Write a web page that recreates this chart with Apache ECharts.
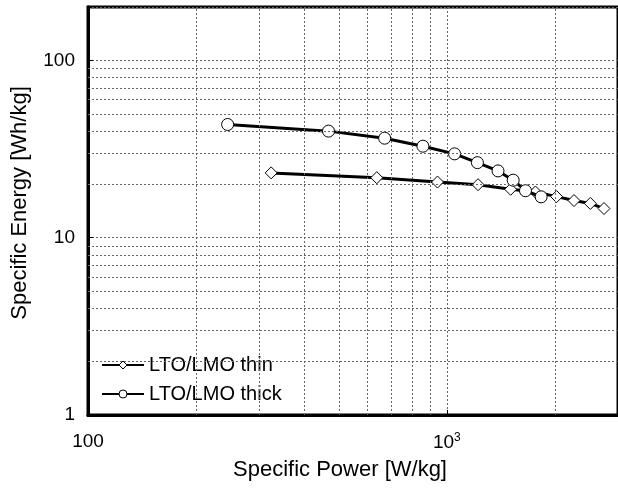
<!DOCTYPE html>
<html>
<head>
<meta charset="utf-8">
<script src="https://cdn.jsdelivr.net/npm/echarts@6/dist/echarts.min.js"></script>
<style>
html,body{margin:0;padding:0;background:#fff;}
#chart{width:618px;height:490px;}
</style>
</head>
<body>
<div id="chart"></div>
<script>
// Data (Specific Power [W/kg], Specific Energy [Wh/kg])
const thinPower  = [324, 638, 942, 1222, 1506, 1766, 2023, 2262, 2512, 2742];
const thinEnergy = [23.2, 21.8, 20.6, 19.9, 18.75, 18.1, 17.05, 16.2, 15.6, 14.6];
const thickPower  = [245, 468, 671, 858, 1051, 1217, 1389, 1531, 1657, 1832];
const thickEnergy = [43.5, 39.9, 36.4, 32.8, 29.7, 26.5, 23.8, 21.1, 18.4, 17.0];
const seriesNames = ['LTO/LMO thin', 'LTO/LMO thick'];
// Minor (log) grid positions
const xMinorGrid = [200, 300, 400, 500, 600, 700, 800, 900, 2000];
const yMinorGrid = [2, 3, 4, 5, 6, 7, 8, 9, 20, 30, 40, 50, 60, 70, 80, 90];
const xRange = [100, 3000];
const yRange = [1, 200];

const FONT = '"Liberation Sans", Arial, Helvetica, sans-serif';
const gridLine = { color: '#666', width: 1, type: [2, 2] };
const hollow = { color: '#fff', borderColor: '#000', borderWidth: 1 };

function isDecade(v) {
  const l = Math.log10(v);
  return Math.abs(l - Math.round(l)) < 1e-6;
}

const chart = echarts.init(document.getElementById('chart'), null, { renderer: 'canvas' });
chart.setOption({
  animation: false,
  backgroundColor: '#fff',
  textStyle: { fontFamily: FONT },
  grid: {
    left: 88, top: 7, width: 532, height: 408,
    show: true, borderColor: '#000', borderWidth: 3, backgroundColor: 'transparent'
  },
  legend: {
    orient: 'vertical', left: 96, top: 350,
    itemWidth: 42, itemHeight: 10, itemGap: 9,
    data: seriesNames,
    itemStyle: { color: '#fff', borderColor: '#000', borderWidth: 1 },
    lineStyle: { color: '#000', width: 2 },
    textStyle: { fontFamily: FONT, fontSize: 20, color: '#000' }
  },
  xAxis: {
    type: 'log', logBase: 10, min: xRange[0], max: xRange[1],
    axisLine: { show: true, lineStyle: { color: '#000', width: 3 } },
    axisTick: { show: true, inside: true, length: 5, lineStyle: { color: '#000', width: 1 } },
    splitLine: { show: true, lineStyle: gridLine },
    axisLabel: {
      margin: 17, color: '#000', fontSize: 19, fontFamily: FONT,
      showMaxLabel: false,
      formatter: function (v) {
        if (!isDecade(v)) return '';
        const e = Math.round(Math.log10(v));
        if (e <= 2) return String(Math.round(v));
        return '{b|10}{s|' + e + '}';
      },
      rich: {
        b: { fontSize: 19, fontFamily: FONT, color: '#000' },
        s: { fontSize: 12, fontFamily: FONT, color: '#000', verticalAlign: 'top', padding: [0, 0, 10, 0] }
      }
    },
    name: 'Specific Power [W/kg]', nameLocation: 'middle', nameGap: 44,
    nameTextStyle: { fontSize: 22, fontFamily: FONT, color: '#000', padding: [0, 26, 0, 0] }
  },
  yAxis: {
    type: 'log', logBase: 10, min: yRange[0], max: yRange[1],
    axisLine: { show: true, lineStyle: { color: '#000', width: 3 } },
    axisTick: { show: true, inside: true, length: 5, lineStyle: { color: '#000', width: 1 } },
    splitLine: { show: true, lineStyle: gridLine },
    axisLabel: {
      margin: 13, color: '#000', fontSize: 19, fontFamily: FONT,
      showMaxLabel: false,
      formatter: function (v) { return isDecade(v) ? String(Math.round(v)) : ''; }
    },
    name: 'Specific Energy [Wh/kg]', nameLocation: 'middle', nameGap: 57, nameRotate: 90,
    nameTextStyle: { fontSize: 22, fontFamily: FONT, color: '#000', padding: [0, 0, 0, 16] }
  },
  series: [
    {
      name: 'minor-grid', type: 'line', data: [], z: 1, silent: true,
      markLine: {
        silent: true, symbol: ['none', 'none'], label: { show: false },
        lineStyle: gridLine, emphasis: { disabled: true },
        data: xMinorGrid.map(v => ({ xAxis: v })).concat(yMinorGrid.map(v => ({ yAxis: v })))
      }
    },
    {
      name: seriesNames[0], type: 'line', z: 3,
      data: thinPower.map((p, i) => [p, thinEnergy[i]]),
      symbol: 'diamond', symbolSize: 12,
      itemStyle: hollow,
      lineStyle: { color: '#000', width: 3 }
    },
    {
      name: seriesNames[1], type: 'line', z: 4,
      data: thickPower.map((p, i) => [p, thickEnergy[i]]),
      symbol: 'circle', symbolSize: 12,
      itemStyle: hollow,
      lineStyle: { color: '#000', width: 3 }
    }
  ]
});
</script>
</body>
</html>
